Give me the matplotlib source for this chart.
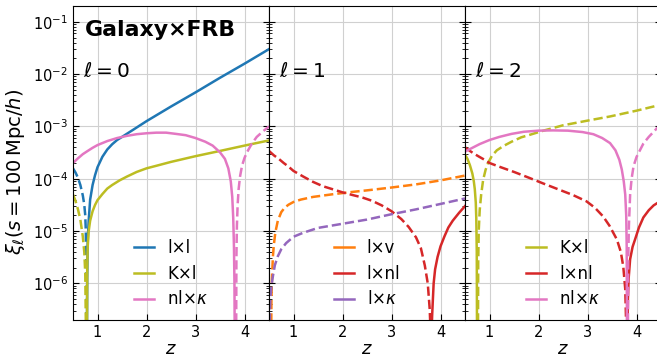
import numpy as np
import matplotlib
matplotlib.use("Agg")
import matplotlib.pyplot as plt
from matplotlib.lines import Line2D
from matplotlib.ticker import LogLocator, NullFormatter

# colours (tab10)
c_ll = '#1f77b4'
c_lv = '#ff7f0e'
c_lnl = '#d62728'
c_lk = '#9467bd'
c_nlk = '#e377c2'
c_Kl = '#bcbd22'

# values are |xi_ell|; "pos" segments are drawn solid, "neg" segments dashed

# ---- ell = 0 ----
# l x l
ll0_neg_z = [0.5, 0.55, 0.6, 0.65, 0.7, 0.73, 0.75, 0.76, 0.77, 0.775]
ll0_neg_v = [1.58e-4, 1.32e-4, 1.05e-4, 7.6e-5, 4.8e-5, 3.2e-5, 2.0e-5, 1.1e-5, 3.2e-6, 1e-7]
ll0_pos_z = [0.785, 0.79, 0.8, 0.82, 0.85, 0.9, 0.95, 1.0, 1.1, 1.2, 1.3, 1.4, 1.5, 1.75, 2.0,
             2.5, 3.0, 3.5, 4.0, 4.5]
ll0_pos_v = [1e-7, 1.26e-6, 6.3e-6, 1.58e-5, 4.0e-5, 7.6e-5, 1.17e-4, 1.66e-4, 2.63e-4, 3.63e-4,
             4.57e-4, 5.5e-4, 6.3e-4, 8.9e-4, 1.26e-3, 2.4e-3, 4.47e-3, 8.5e-3, 1.58e-2, 3.0e-2]
# K x l
Kl0_neg_z = [0.5, 0.55, 0.6, 0.65, 0.7, 0.73, 0.75, 0.765]
Kl0_neg_v = [5.0e-5, 3.8e-5, 2.63e-5, 1.66e-5, 7.9e-6, 4.0e-6, 1.58e-6, 1e-7]
Kl0_pos_z = [0.785, 0.79, 0.80, 0.82, 0.85, 0.9, 0.95, 1.0, 1.1, 1.2, 1.3, 1.45, 1.6, 1.8, 2.0,
             2.25, 2.5, 3.0, 3.5, 4.0, 4.5]
Kl0_pos_v = [1e-7, 2.0e-6, 5.0e-6, 1.0e-5, 1.58e-5, 2.4e-5, 3.16e-5, 3.9e-5, 5.1e-5, 6.5e-5,
             7.6e-5, 9.3e-5, 1.1e-4, 1.35e-4, 1.58e-4, 1.82e-4, 2.1e-4, 2.7e-4, 3.4e-4, 4.3e-4,
             5.4e-4]
# nl x kappa
nlk0_pos_z = [0.5, 0.6, 0.7, 0.8, 0.9, 1.0, 1.2, 1.4, 1.6, 1.8, 2.0, 2.2, 2.4, 2.6, 2.8, 3.0,
              3.2, 3.35, 3.5, 3.6, 3.67, 3.72, 3.75, 3.77, 3.785, 3.795, 3.8]
nlk0_pos_v = [2.0e-4, 2.45e-4, 2.95e-4, 3.4e-4, 3.9e-4, 4.4e-4, 5.25e-4, 6.0e-4, 6.6e-4, 7.1e-4,
              7.4e-4, 7.6e-4, 7.6e-4, 7.2e-4, 6.8e-4, 6.0e-4, 5.1e-4, 4.3e-4, 3.2e-4, 2.4e-4,
              1.58e-4, 8.9e-5, 4.5e-5, 1.78e-5, 5.0e-6, 1e-6, 1e-7]
nlk0_neg_z = [3.83, 3.835, 3.845, 3.86, 3.88, 3.91, 3.95, 4.0, 4.05, 4.15, 4.25, 4.38, 4.5]
nlk0_neg_v = [1e-7, 3.2e-6, 1.26e-5, 3.2e-5, 6.3e-5, 1.12e-4, 1.78e-4, 2.5e-4, 3.2e-4, 4.7e-4,
              6.3e-4, 8.1e-4, 1.0e-3]

# ---- ell = 1 ----
lv1_neg_z = [0.545, 0.55, 0.56, 0.58, 0.6, 0.63, 0.68, 0.75, 0.82, 0.9, 1.0, 1.15, 1.4, 1.83,
             2.2, 2.5, 3.0, 3.5, 4.0, 4.5]
lv1_neg_v = [1e-7, 5.0e-7, 1.26e-6, 3.3e-6, 5.6e-6, 9.5e-6, 1.58e-5, 2.3e-5, 2.8e-5, 3.2e-5,
             3.6e-5, 4.0e-5, 4.5e-5, 5.1e-5, 5.6e-5, 6.0e-5, 6.8e-5, 7.8e-5, 9.3e-5, 1.15e-4]
lnl1_neg_z = [0.5, 0.6, 0.7, 0.8, 0.9, 1.0, 1.2, 1.4, 1.6, 1.8, 2.0, 2.2, 2.4, 2.6, 2.8, 3.0,
              3.2, 3.35, 3.5, 3.6, 3.68, 3.74, 3.78, 3.8]
lnl1_neg_v = [3.4e-4, 2.8e-4, 2.4e-4, 2.0e-4, 1.7e-4, 1.41e-4, 1.1e-4, 8.7e-5, 7.2e-5, 6.3e-5,
              5.5e-5, 4.9e-5, 4.4e-5, 3.8e-5, 3.1e-5, 2.4e-5, 1.7e-5, 1.2e-5, 7.6e-6, 4.7e-6,
              2.2e-6, 1e-6, 3.2e-7, 1e-7]
lnl1_pos_z = [3.815, 3.83, 3.84, 3.86, 3.89, 3.94, 4.0, 4.08, 4.16, 4.25, 4.38, 4.5]
lnl1_pos_v = [1e-7, 2.5e-7, 4.0e-7, 1.0e-6, 1.86e-6, 3.2e-6, 5.1e-6, 7.9e-6, 1.17e-5, 1.58e-5,
              2.24e-5, 3.0e-5]
lk1_neg_z = [0.515, 0.52, 0.53, 0.55, 0.58, 0.62, 0.68, 0.75, 0.85, 1.0, 1.2, 1.5, 2.0, 2.5,
             3.0, 3.5, 4.0, 4.5]
lk1_neg_v = [1e-7, 3.2e-7, 5.6e-7, 8.9e-7, 1.38e-6, 2.24e-6, 3.3e-6, 4.5e-6, 5.9e-6, 7.8e-6,
             9.3e-6, 1.15e-5, 1.38e-5, 1.66e-5, 2.1e-5, 2.6e-5, 3.3e-5, 4.2e-5]

# ---- ell = 2 ----
Kl2_pos_z = [0.5, 0.55, 0.6, 0.65, 0.68, 0.7, 0.72, 0.73, 0.74, 0.745]
Kl2_pos_v = [2.9e-4, 2.4e-4, 1.82e-4, 1.26e-4, 8.9e-5, 6.3e-5, 3.5e-5, 1.78e-5, 4.0e-6, 1e-7]
Kl2_neg_z = [0.765, 0.77, 0.78, 0.8, 0.83, 0.87, 0.92, 0.97, 1.05, 1.15, 1.28, 1.45, 1.65, 1.82,
             2.1, 2.5, 3.0, 3.46, 4.0, 4.5]
Kl2_neg_v = [1e-7, 2.5e-6, 1.0e-5, 2.5e-5, 5.0e-5, 9.5e-5, 1.48e-4, 2.0e-4, 2.75e-4, 3.5e-4,
             4.2e-4, 5.1e-4, 6.2e-4, 6.9e-4, 8.3e-4, 1.05e-3, 1.29e-3, 1.55e-3, 2.0e-3, 2.6e-3]
lnl2_neg_z = [0.5, 0.6, 0.7, 0.8, 0.9, 1.0, 1.2, 1.5, 1.8, 2.1, 2.4, 2.7, 2.98, 3.15, 3.32, 3.45,
              3.6, 3.68, 3.73, 3.77, 3.795]
lnl2_neg_v = [4.0e-4, 3.4e-4, 2.95e-4, 2.6e-4, 2.3e-4, 2.0e-4, 1.7e-4, 1.35e-4, 1.05e-4, 8.1e-5,
              6.3e-5, 4.9e-5, 3.7e-5, 2.8e-5, 1.9e-5, 1.26e-5, 6.9e-6, 4.0e-6, 2.1e-6, 7.9e-7,
              1e-7]
lnl2_pos_z = [3.815, 3.825, 3.84, 3.87, 3.92, 3.97, 4.05, 4.14, 4.25, 4.35, 4.5]
lnl2_pos_v = [1e-7, 5.0e-7, 1.26e-6, 2.9e-6, 5.0e-6, 6.9e-6, 1.17e-5, 1.82e-5, 2.5e-5, 3.1e-5,
              3.8e-5]
nlk2_pos_z = [0.5, 0.65, 0.8, 1.0, 1.2, 1.45, 1.7, 2.0, 2.3, 2.6, 2.9, 3.12, 3.3, 3.46, 3.57,
              3.65, 3.7, 3.74, 3.77, 3.79, 3.80, 3.805]
nlk2_pos_v = [3.3e-4, 3.9e-4, 4.6e-4, 5.5e-4, 6.3e-4, 7.2e-4, 7.9e-4, 8.3e-4, 8.4e-4, 8.3e-4,
              7.8e-4, 7.1e-4, 6.0e-4, 4.8e-4, 3.5e-4, 2.3e-4, 1.5e-4, 8.9e-5, 5.0e-5, 2.0e-5,
              5.0e-6, 1e-7]
nlk2_neg_z = [3.825, 3.83, 3.845, 3.87, 3.9, 3.94, 4.0, 4.07, 4.14, 4.25, 4.35, 4.42, 4.5]
nlk2_neg_v = [1e-7, 2.5e-6, 1.26e-5, 5.0e-5, 1.0e-4, 1.74e-4, 2.6e-4, 3.5e-4, 4.7e-4, 6.3e-4,
              7.9e-4, 9.3e-4, 1.07e-3]

y_major = [1e-6, 1e-5, 1e-4, 1e-3, 1e-2, 1e-1]

lw = 1.8

fig = plt.figure(figsize=(6.57, 3.64), dpi=100)
W, H = 657.0, 364.0
left0, bottom, pw, ph = 73, 320, 196, 314
axes = []
for i in range(3):
    ax = fig.add_axes([(left0 + i * pw) / W, 1 - bottom / H, pw / W, ph / H])
    axes.append(ax)

for ax in axes:
    ax.set_yscale('log')
    ax.set_xlim(0.5, 4.5)
    ax.set_ylim(2e-7, 2e-1)
    ax.set_xticks([1, 2, 3, 4])
    ax.set_yticks(y_major)
    ax.yaxis.set_minor_locator(LogLocator(base=10, subs=np.arange(2, 10), numticks=100))
    ax.yaxis.set_minor_formatter(NullFormatter())
    ax.grid(True, which='major', color='#d0d0d0', lw=0.8)
    ax.tick_params(which='both', direction='in', right=True, labelsize=10.5)
    ax.tick_params(which='major', length=4)
    ax.tick_params(which='minor', length=2)
    ax.set_xlabel(r'$z$', fontsize=13, labelpad=0)
    ax.set_axisbelow(True)

for ax in axes[1:]:
    ax.tick_params(labelleft=False)

ax1, ax2, ax3 = axes

# panel 1
ax1.plot(ll0_neg_z, ll0_neg_v, color=c_ll, lw=lw, ls='--')
ax1.plot(ll0_pos_z, ll0_pos_v, color=c_ll, lw=lw)
ax1.plot(Kl0_neg_z, Kl0_neg_v, color=c_Kl, lw=lw, ls='--')
ax1.plot(Kl0_pos_z, Kl0_pos_v, color=c_Kl, lw=lw)
ax1.plot(nlk0_pos_z, nlk0_pos_v, color=c_nlk, lw=lw)
ax1.plot(nlk0_neg_z, nlk0_neg_v, color=c_nlk, lw=lw, ls='--')

# panel 2
ax2.plot(lv1_neg_z, lv1_neg_v, color=c_lv, lw=lw, ls='--')
ax2.plot(lnl1_neg_z, lnl1_neg_v, color=c_lnl, lw=lw, ls='--')
ax2.plot(lnl1_pos_z, lnl1_pos_v, color=c_lnl, lw=lw)
ax2.plot(lk1_neg_z, lk1_neg_v, color=c_lk, lw=lw, ls='--')

# panel 3
ax3.plot(Kl2_pos_z, Kl2_pos_v, color=c_Kl, lw=lw)
ax3.plot(Kl2_neg_z, Kl2_neg_v, color=c_Kl, lw=lw, ls='--')
ax3.plot(lnl2_neg_z, lnl2_neg_v, color=c_lnl, lw=lw, ls='--')
ax3.plot(lnl2_pos_z, lnl2_pos_v, color=c_lnl, lw=lw)
ax3.plot(nlk2_pos_z, nlk2_pos_v, color=c_nlk, lw=lw)
ax3.plot(nlk2_neg_z, nlk2_neg_v, color=c_nlk, lw=lw, ls='--')


def proxy(c):
    return Line2D([], [], color=c, lw=lw)


leg_kw = dict(loc='lower center', frameon=False, fontsize=12, handlelength=1.2,
              labelspacing=0.45, borderaxespad=0.3)
ax1.legend([proxy(c_ll), proxy(c_Kl), proxy(c_nlk)],
           ['l×l', 'K×l', r'nl$\times\kappa$'], **leg_kw)
ax2.legend([proxy(c_lv), proxy(c_lnl), proxy(c_lk)],
           ['l×v', 'l×nl', r'l$\times\kappa$'], **leg_kw)
ax3.legend([proxy(c_Kl), proxy(c_lnl), proxy(c_nlk)],
           ['K×l', 'l×nl', r'nl$\times\kappa$'], **leg_kw)

ax1.text(0.06, 0.955, 'Galaxy×FRB', transform=ax1.transAxes, fontsize=15.8,
         fontweight='bold', va='top', ha='left')
for i, ax in enumerate(axes):
    ax.text(0.05, 0.822, r'$\ell = %d$' % i, transform=ax.transAxes, fontsize=14.5,
            va='top', ha='left')

ax1.set_ylabel(r'$\xi_\ell(s = 100\,\mathrm{Mpc}/h)$', fontsize=14)
ax1.yaxis.set_label_coords(-0.235, 0.47)

fig.savefig('out.png', dpi=100)
